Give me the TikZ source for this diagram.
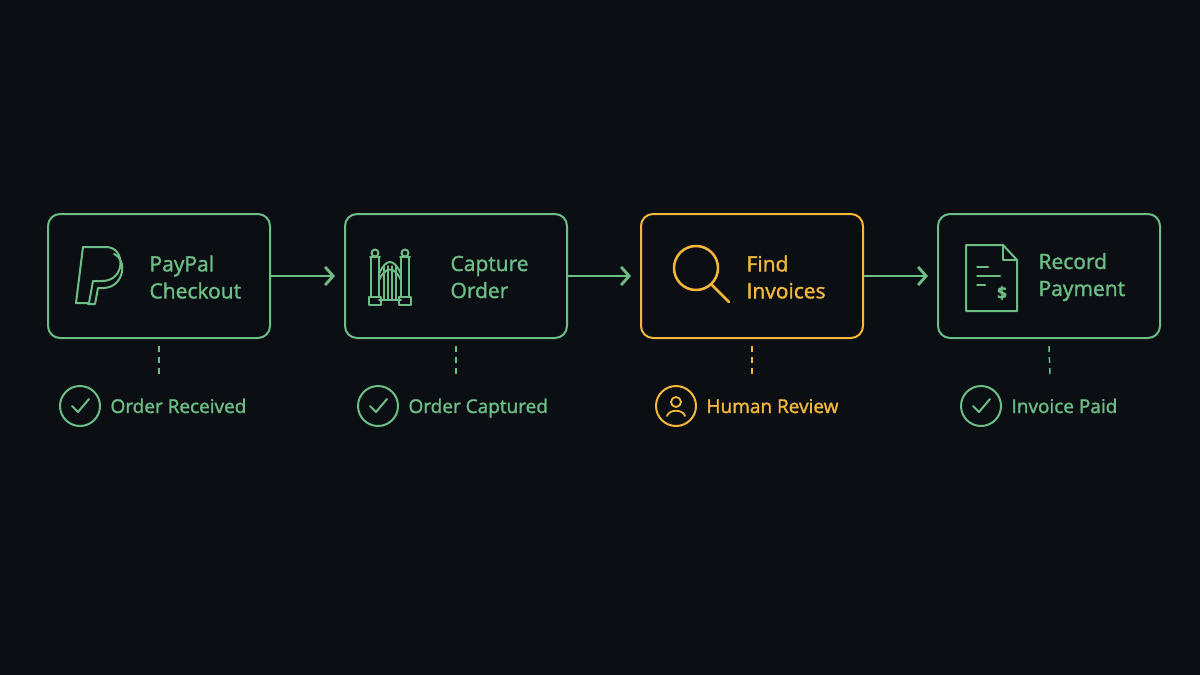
\documentclass[tikz,border=0pt]{standalone}
\usepackage{fontspec}
\setmainfont{Open Sans}[FakeBold=1.6]
\usetikzlibrary{arrows.meta,positioning}
\definecolor{bgc}{HTML}{0B0E13}
\definecolor{grn}{HTML}{6DBE86}
\definecolor{ylw}{HTML}{F2B83C}
\tikzset{
  step/.style={draw=#1, line width=2pt, rounded corners=12pt, minimum width=222pt, minimum height=124pt},
  lbl/.style={text=#1, font=\fontsize{21}{27}\selectfont, align=left, anchor=west},
  stat/.style={text=#1, font=\fontsize{19}{23}\selectfont, anchor=base west},
  flow/.style={draw=grn, line width=2.8pt, -{Straight Barb[length=8pt,width=18pt,line width=2.8pt]}},
  tick/.style={draw=#1, dashed, dash pattern=on 6pt off 5pt, line width=1.5pt},
  icon/.style={draw=#1, line width=2pt, line cap=round, line join=round}
}
\begin{document}
\begin{tikzpicture}[x=1pt,y=-1pt]
\fill[bgc] (0,0) rectangle (1200,675);
\useasboundingbox (0,0) rectangle (1200,675);

% steps
\node[step=grn] (pay) at (159,276) {};
\node[step=grn] (cap) at (456,276) {};
\node[step=ylw] (find) at (752,276) {};
\node[step=grn] (rec) at (1049,276) {};

\node[lbl=grn] (payt) at (146,277) {PayPal\\Checkout};
\node[lbl=grn] (capt) at (447,277) {Capture\\Order};
\node[lbl=ylw] (findt) at (743,277) {Find\\Invoices};
\node[lbl=grn] (rect) at (1035,277) {Record\\Payment};

\draw[flow] (pay.east) -- ([xshift=-9pt]cap.west);
\draw[flow] (cap.east) -- ([xshift=-9pt]find.west);
\draw[flow] (find.east) -- ([xshift=-9pt]rec.west);

% status
\node[circle, draw=grn, line width=2pt, minimum size=40pt] (s1) at (80,406) {};
\node[circle, draw=grn, line width=2pt, minimum size=40pt] (s2) at (378,406) {};
\node[circle, draw=ylw, line width=2pt, minimum size=40pt] (s3) at (676,406) {};
\node[circle, draw=grn, line width=2pt, minimum size=40pt] (s4) at (981,406) {};
\node[stat=grn] (s1t) at (107,413) {Order Received};
\node[stat=grn] (s2t) at (405,413) {Order Captured};
\node[stat=ylw] (s3t) at (703,413) {Human Review};
\node[stat=grn] (s4t) at (1008,413) {Invoice Paid};

\coordinate (d1) at (159,375);
\coordinate (d2) at (456,375);
\coordinate (d3) at (752,375);
\coordinate (d4) at (1050,375);
\draw[tick=grn] ([yshift=-7pt]pay.south) -- (d1);
\draw[tick=grn] ([yshift=-7pt]cap.south) -- (d2);
\draw[tick=ylw] ([yshift=-7pt]find.south) -- (d3);
\draw[tick=grn] ([yshift=-7pt]rec.south) -- (d4);

% checks
\foreach \n in {s1,s2,s4}
  \draw[icon=grn] ([shift={(-8,0)}]\n.center) -- ([shift={(-2,6)}]\n.center) -- ([shift={(9,-7)}]\n.center);
% person
\draw[icon=ylw, line width=1.8pt] ([shift={(0,-4)}]s3.center) circle (5);
\draw[icon=ylw, line width=1.8pt] ([shift={(-9,10)}]s3.center) .. controls ([shift={(-7,3)}]s3.center) and ([shift={(7,3)}]s3.center) .. ([shift={(9,10)}]s3.center);

% paypal
\draw[icon=grn] (83,247) -- (106,247) .. controls (126,247) and (126,281) .. (102,281) -- (93,281) -- (89,303) -- (76,303) -- cycle;
\draw[icon=grn] (114,254) .. controls (128,260) and (124,287) .. (104,288) -- (98,288) -- (95,304) -- (88,304);

% gate
\foreach \px in {375,405} {
  \draw[icon=grn] (\px,253) circle (3.5);
  \draw[icon=grn] (\px-5,257) -- (\px+5,257);
  \draw[icon=grn] (\px-4,257) rectangle (\px+4,297);
  \draw[icon=grn] (\px-6,297) rectangle (\px+6,305);
}
\draw[icon=grn] (379,274) .. controls (386,258) and (394,258) .. (401,274);
\draw[icon=grn] (379,280) .. controls (386,266) and (394,266) .. (401,280);
\draw[icon=grn] (379,300) -- (401,300);
\foreach \bx in {384,388,392,396}
  \draw[icon=grn, line width=1.5pt] (\bx,266) -- (\bx,300);

% magnifier
\draw[icon=ylw, line width=2.5pt] (696,268) circle (22);
\draw[icon=ylw, line width=2.5pt] (712,285) -- (729,302);

% invoice
\draw[icon=grn] (966,245) -- (1003,245) -- (1017,260) -- (1017,311) -- (966,311) -- cycle;
\draw[icon=grn] (1003,245) -- (1003,260) -- (1017,260);
\draw[icon=grn] (977,267) -- (988,267);
\draw[icon=grn] (977,276) -- (1000,276);
\draw[icon=grn] (977,285) -- (985,285);
\node[text=grn, font=\fontsize{17}{20}\selectfont\bfseries] (dol) at (1002,293) {\$};
\end{tikzpicture}
\end{document}
